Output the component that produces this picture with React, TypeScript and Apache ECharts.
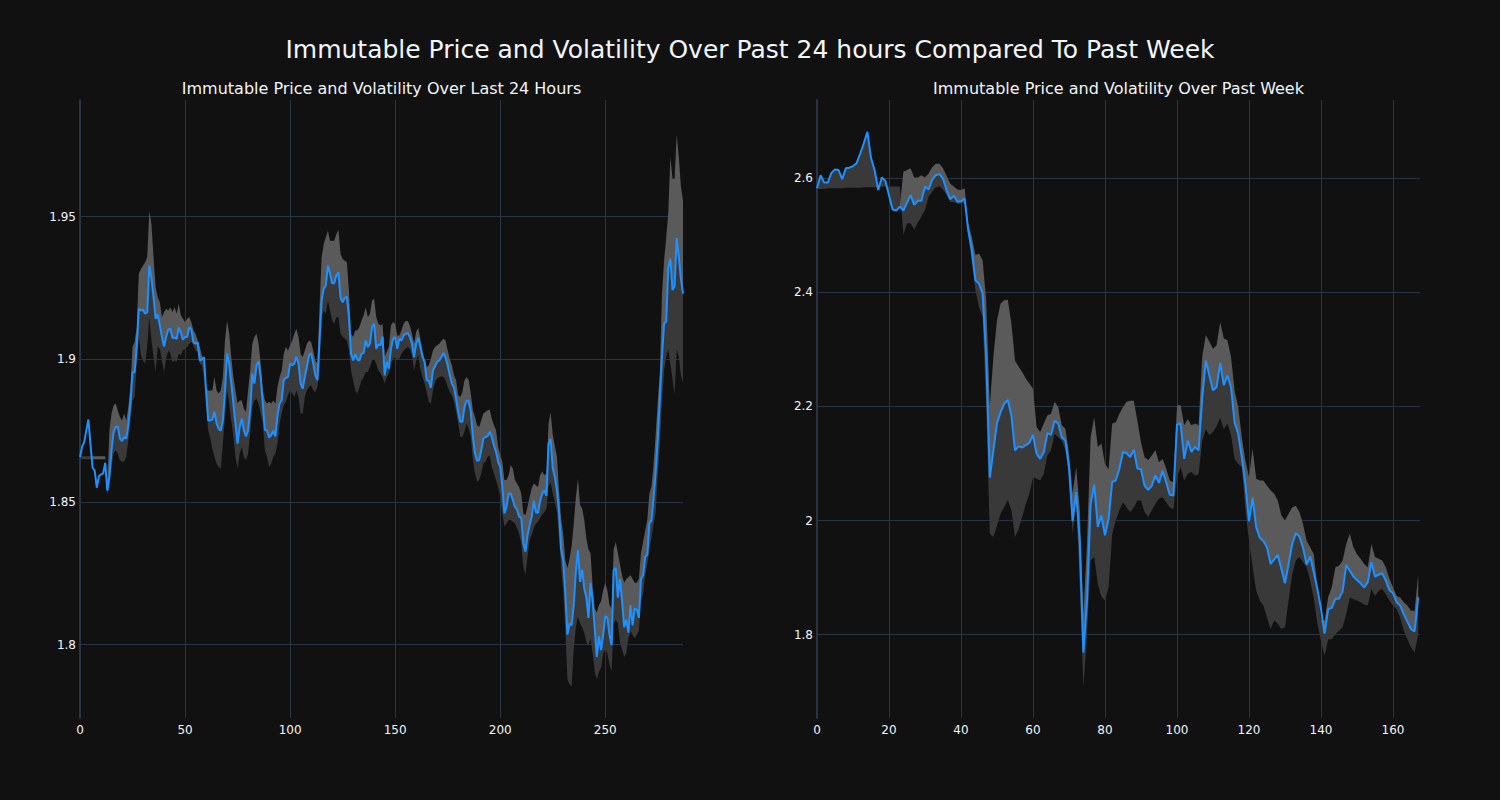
import React, { useEffect, useRef } from "react";
import * as echarts from "echarts";

const mainTitle = "Immutable Price and Volatility Over Past 24 hours Compared To Past Week";
const title24 = "Immutable Price and Volatility Over Last 24 Hours";
const titleWeek = "Immutable Price and Volatility Over Past Week";

const yTicks24 = [1.8, 1.85, 1.9, 1.95];
const yTicksWeek = [1.8, 2.0, 2.2, 2.4, 2.6];

// ---- Last 24 hours (5-minute steps) ----
const price24 = [
  1.8658, 1.8693, 1.8710, 1.8750, 1.8789, 1.8700, 1.8620, 1.8610, 1.8550, 1.8590,
  1.8597, 1.8600, 1.8637, 1.8540, 1.8588, 1.8684, 1.8746, 1.8763, 1.8765, 1.8722,
  1.8714, 1.8728, 1.8722, 1.8769, 1.8845, 1.8955, 1.8955, 1.9043, 1.9177, 1.9171,
  1.9174, 1.9160, 1.9165, 1.9329, 1.9285, 1.9218, 1.9142, 1.9157, 1.9119, 1.9078,
  1.9045, 1.9078, 1.9104, 1.9107, 1.9076, 1.9076, 1.9072, 1.9111, 1.9095, 1.9069,
  1.9078, 1.9078, 1.9113, 1.9104, 1.9060, 1.9055, 1.9060, 1.8996, 1.8999, 1.9008,
  1.8891, 1.8786, 1.8786, 1.8789, 1.8816, 1.8775, 1.8757, 1.8750, 1.8786, 1.8891,
  1.9020, 1.8985, 1.8915, 1.8845, 1.8775, 1.8705, 1.8763, 1.8792, 1.8750, 1.8730,
  1.8750, 1.8821, 1.8950, 1.8915, 1.8979, 1.8994, 1.8938, 1.8845, 1.8753, 1.8750,
  1.8726, 1.8734, 1.8750, 1.8730, 1.8804, 1.8845, 1.8857, 1.8929, 1.8935, 1.8938,
  1.8985, 1.8979, 1.8985, 1.9010, 1.8985, 1.8915, 1.8897, 1.8938, 1.8973, 1.9014,
  1.9022, 1.8985, 1.8944, 1.8927, 1.9066, 1.9206, 1.9247, 1.9259, 1.9329, 1.9300,
  1.9267, 1.9267, 1.9294, 1.9305, 1.9216, 1.9200, 1.9216, 1.9220, 1.9148, 1.9020,
  1.8996, 1.9018, 1.8999, 1.8996, 1.9020, 1.9022, 1.9066, 1.9043, 1.9055, 1.9113,
  1.9125, 1.9037, 1.9052, 1.9049, 1.9080, 1.8944, 1.8991, 1.8967, 1.9037, 1.9072,
  1.9078, 1.9037, 1.9072, 1.9066, 1.9084, 1.9090, 1.9092, 1.9078, 1.9055, 1.9008,
  1.9055, 1.9076, 1.9043, 1.9008, 1.8991, 1.8927, 1.8924, 1.8901, 1.8962, 1.8976,
  1.8991, 1.8996, 1.9008, 1.9022, 1.9006, 1.8979, 1.8944, 1.8915, 1.8901, 1.8862,
  1.8816, 1.8781, 1.8781, 1.8833, 1.8856, 1.8854, 1.8816, 1.8728, 1.8670, 1.8644,
  1.8647, 1.8682, 1.8723, 1.8728, 1.8731, 1.8746, 1.8728, 1.8699, 1.8676, 1.8641,
  1.8623, 1.8553, 1.8460, 1.8483, 1.8530, 1.8530, 1.8507, 1.8483, 1.8474, 1.8448,
  1.8446, 1.8355, 1.8326, 1.8384, 1.8419, 1.8448, 1.8505, 1.8464, 1.8462, 1.8503,
  1.8531, 1.8541, 1.8522, 1.8704, 1.8721, 1.8619, 1.8587, 1.8541, 1.8464, 1.8334,
  1.8295, 1.8178, 1.8035, 1.8074, 1.8068, 1.8139, 1.8256, 1.8331, 1.8220, 1.8262,
  1.8197, 1.8165, 1.8094, 1.8217, 1.8152, 1.8055, 1.7957, 1.8029, 1.7981, 1.8035,
  1.8100, 1.8094, 1.8035, 1.7999, 1.8262, 1.8269, 1.8165, 1.8230, 1.8152, 1.8061,
  1.8087, 1.8042, 1.8139, 1.8068, 1.8126, 1.8123, 1.8094, 1.8230, 1.8243, 1.8308,
  1.8314, 1.8425, 1.8435, 1.8516, 1.8606, 1.8723, 1.8866, 1.9009, 1.9126, 1.9132,
  1.9321, 1.9353, 1.9243, 1.9256, 1.9425, 1.9360, 1.9282, 1.9230,
];

const upper24 = [
  1.8660, 1.8660, 1.8660, 1.8660, 1.8660, 1.8660, 1.8660, 1.8660, 1.8660, 1.8660,
  1.8660, 1.8660, 1.8660, 1.8560, 1.8751, 1.8810, 1.8839, 1.8845, 1.8821, 1.8798,
  1.8786, 1.8810, 1.8786, 1.8833, 1.8903, 1.9043, 1.9061, 1.9113, 1.9300, 1.9317,
  1.9329, 1.9340, 1.9358, 1.9521, 1.9474, 1.9358, 1.9253, 1.9218, 1.9200, 1.9148,
  1.9165, 1.9177, 1.9171, 1.9183, 1.9165, 1.9183, 1.9160, 1.9195, 1.9154, 1.9142,
  1.9130, 1.9142, 1.9148, 1.9130, 1.9101, 1.9090, 1.9066, 1.9043, 1.9014, 1.8996,
  1.8903, 1.8891, 1.8891, 1.8891, 1.8938, 1.8891, 1.8880, 1.8891, 1.8938, 1.9066,
  1.9136, 1.9090, 1.9008, 1.8938, 1.8891, 1.8845, 1.8856, 1.8856, 1.8827, 1.8816,
  1.8891, 1.8961, 1.9055, 1.9078, 1.9090, 1.9055, 1.8985, 1.8891, 1.8856, 1.8845,
  1.8851, 1.8845, 1.8856, 1.8845, 1.8903, 1.8938, 1.8961, 1.9020, 1.9043, 1.9031,
  1.9049, 1.9066, 1.9090, 1.9107, 1.9078, 1.9020, 1.9008, 1.9031, 1.9055, 1.9066,
  1.9061, 1.9031, 1.8996, 1.8985, 1.9183, 1.9358, 1.9404, 1.9428, 1.9451, 1.9416,
  1.9416, 1.9416, 1.9439, 1.9453, 1.9370, 1.9352, 1.9346, 1.9340, 1.9241, 1.9090,
  1.9078, 1.9101, 1.9101, 1.9113, 1.9136, 1.9154, 1.9183, 1.9148, 1.9160, 1.9206,
  1.9212, 1.9148, 1.9125, 1.9119, 1.9125, 1.9008, 1.9026, 1.9043, 1.9119, 1.9131,
  1.9125, 1.9084, 1.9084, 1.9101, 1.9125, 1.9134, 1.9134, 1.9119, 1.9090, 1.9055,
  1.9096, 1.9111, 1.9072, 1.9031, 1.9002, 1.8973, 1.8979, 1.9002, 1.9031, 1.9043,
  1.9049, 1.9055, 1.9064, 1.9072, 1.9066, 1.9031, 1.9002, 1.8979, 1.8944, 1.8927,
  1.8874, 1.8868, 1.8886, 1.8927, 1.8938, 1.8927, 1.8880, 1.8822, 1.8798, 1.8769,
  1.8763, 1.8787, 1.8810, 1.8816, 1.8822, 1.8824, 1.8792, 1.8769, 1.8752, 1.8693,
  1.8665, 1.8642, 1.8577, 1.8577, 1.8594, 1.8629, 1.8618, 1.8577, 1.8565, 1.8553,
  1.8530, 1.8460, 1.8454, 1.8483, 1.8518, 1.8548, 1.8565, 1.8559, 1.8553, 1.8594,
  1.8607, 1.8594, 1.8600, 1.8775, 1.8814, 1.8736, 1.8697, 1.8659, 1.8542, 1.8438,
  1.8386, 1.8295, 1.8269, 1.8301, 1.8347, 1.8425, 1.8516, 1.8581, 1.8490, 1.8477,
  1.8438, 1.8373, 1.8334, 1.8321, 1.8204, 1.8126, 1.8113, 1.8139, 1.8152, 1.8191,
  1.8217, 1.8191, 1.8139, 1.8126, 1.8334, 1.8360, 1.8321, 1.8282, 1.8243, 1.8217,
  1.8230, 1.8236, 1.8243, 1.8230, 1.8217, 1.8217, 1.8230, 1.8321, 1.8360, 1.8399,
  1.8438, 1.8529, 1.8555, 1.8633, 1.8736, 1.8853, 1.8957, 1.9230, 1.9347, 1.9425,
  1.9516, 1.9710, 1.9633, 1.9633, 1.9788, 1.9710, 1.9607, 1.9555,
];

const lower24 = [
  1.8650, 1.8650, 1.8650, 1.8650, 1.8650, 1.8650, 1.8650, 1.8650, 1.8650, 1.8650,
  1.8650, 1.8650, 1.8650, 1.8524, 1.8565, 1.8623, 1.8670, 1.8681, 1.8670, 1.8646,
  1.8641, 1.8641, 1.8658, 1.8716, 1.8786, 1.8856, 1.8868, 1.8985, 1.9078, 1.9014,
  1.8996, 1.8985, 1.9043, 1.9148, 1.9066, 1.9008, 1.8956, 1.9043, 1.9037, 1.8996,
  1.8956, 1.9002, 1.9031, 1.9020, 1.8991, 1.8996, 1.8991, 1.9020, 1.9014, 1.9031,
  1.9037, 1.9043, 1.9055, 1.9061, 1.9049, 1.9031, 1.9026, 1.8985, 1.8979, 1.8938,
  1.8845, 1.8751, 1.8723, 1.8687, 1.8658, 1.8635, 1.8623, 1.8617, 1.8705, 1.8798,
  1.8891, 1.8845, 1.8786, 1.8728, 1.8658, 1.8617, 1.8670, 1.8693, 1.8658, 1.8646,
  1.8670, 1.8740, 1.8833, 1.8856, 1.8862, 1.8845, 1.8810, 1.8775, 1.8681, 1.8658,
  1.8623, 1.8635, 1.8658, 1.8670, 1.8705, 1.8775, 1.8810, 1.8839, 1.8851, 1.8874,
  1.8891, 1.8880, 1.8868, 1.8891, 1.8868, 1.8810, 1.8810, 1.8868, 1.8891, 1.8903,
  1.8909, 1.8891, 1.8886, 1.8903, 1.8961, 1.9148, 1.9171, 1.9160, 1.9206, 1.9171,
  1.9136, 1.9125, 1.9148, 1.9148, 1.9090, 1.9078, 1.9072, 1.9066, 1.9031, 1.8961,
  1.8926, 1.8891, 1.8880, 1.8903, 1.8926, 1.8938, 1.8956, 1.8956, 1.8973, 1.8996,
  1.9002, 1.8985, 1.8961, 1.8950, 1.8938, 1.8915, 1.8938, 1.8950, 1.8985, 1.9002,
  1.9008, 1.8996, 1.9002, 1.9020, 1.9031, 1.9037, 1.9043, 1.9037, 1.9014, 1.8961,
  1.8996, 1.9014, 1.8967, 1.8938, 1.8915, 1.8886, 1.8851, 1.8845, 1.8892, 1.8921,
  1.8932, 1.8938, 1.8940, 1.8938, 1.8927, 1.8903, 1.8886, 1.8874, 1.8851, 1.8816,
  1.8775, 1.8728, 1.8728, 1.8746, 1.8775, 1.8758, 1.8728, 1.8647, 1.8600, 1.8571,
  1.8577, 1.8600, 1.8635, 1.8641, 1.8658, 1.8664, 1.8623, 1.8600, 1.8577, 1.8553,
  1.8518, 1.8460, 1.8414, 1.8425, 1.8437, 1.8437, 1.8431, 1.8425, 1.8408, 1.8390,
  1.8355, 1.8274, 1.8245, 1.8309, 1.8367, 1.8384, 1.8408, 1.8425, 1.8431, 1.8444,
  1.8457, 1.8464, 1.8477, 1.8555, 1.8568, 1.8529, 1.8503, 1.8464, 1.8373, 1.8269,
  1.8191, 1.8048, 1.7879, 1.7860, 1.7853, 1.7983, 1.8061, 1.8100, 1.8074, 1.8061,
  1.8042, 1.8009, 1.7996, 1.8022, 1.7970, 1.7905, 1.7879, 1.7905, 1.7918, 1.7970,
  1.7983, 1.7970, 1.7931, 1.7905, 1.8074, 1.8087, 1.8074, 1.8009, 1.7983, 1.7957,
  1.7970, 1.8022, 1.8048, 1.8035, 1.8022, 1.8035, 1.8048, 1.8152, 1.8178, 1.8243,
  1.8282, 1.8334, 1.8373, 1.8425, 1.8464, 1.8594, 1.8697, 1.8853, 1.8957, 1.9009,
  1.9035, 1.8983, 1.8931, 1.8879, 1.9035, 1.9009, 1.8944, 1.8918,
];

// ---- Past week (hourly steps) ----
const priceWeek = [
  2.582, 2.605, 2.592, 2.592, 2.609, 2.615, 2.614, 2.598, 2.617, 2.618,
  2.621, 2.626, 2.643, 2.661, 2.681, 2.635, 2.614, 2.579, 2.601, 2.595,
  2.570, 2.545, 2.543, 2.550, 2.543, 2.557, 2.570, 2.553, 2.560, 2.560,
  2.585, 2.580, 2.597, 2.605, 2.607, 2.599, 2.579, 2.563, 2.569, 2.559,
  2.559, 2.564, 2.509, 2.474, 2.421, 2.415, 2.398, 2.287, 2.075, 2.123,
  2.171, 2.190, 2.205, 2.211, 2.184, 2.123, 2.130, 2.128, 2.132, 2.136,
  2.150, 2.117, 2.108, 2.120, 2.153, 2.150, 2.175, 2.170, 2.146, 2.140,
  2.094, 1.999, 2.050, 1.960, 1.769, 1.860, 2.029, 2.063, 1.989, 2.009,
  1.974, 2.003, 2.068, 2.070, 2.091, 2.120, 2.118, 2.111, 2.124, 2.091,
  2.090, 2.061, 2.054, 2.061, 2.079, 2.066, 2.087, 2.067, 2.045, 2.044,
  2.168, 2.170, 2.108, 2.140, 2.120, 2.129, 2.123, 2.215, 2.280, 2.254,
  2.228, 2.234, 2.276, 2.237, 2.254, 2.234, 2.172, 2.152, 2.111, 2.064,
  1.999, 2.040, 1.988, 1.970, 1.964, 1.953, 1.924, 1.932, 1.940, 1.915,
  1.890, 1.924, 1.959, 1.978, 1.972, 1.953, 1.923, 1.937, 1.909, 1.880,
  1.845, 1.802, 1.845, 1.847, 1.863, 1.863, 1.876, 1.922, 1.912, 1.902,
  1.896, 1.890, 1.883, 1.892, 1.927, 1.902, 1.905, 1.908, 1.895, 1.878,
  1.873, 1.857, 1.851, 1.836, 1.823, 1.810, 1.806, 1.866,
];

const upperWeek = [
  2.582, 2.605, 2.592, 2.592, 2.609, 2.615, 2.614, 2.598, 2.617, 2.618,
  2.621, 2.626, 2.643, 2.661, 2.681, 2.635, 2.614, 2.579, 2.601, 2.595,
  2.570, 2.545, 2.543, 2.550, 2.611, 2.614, 2.617, 2.601, 2.601, 2.605,
  2.601, 2.608, 2.619, 2.625, 2.625, 2.617, 2.604, 2.590, 2.585, 2.580,
  2.579, 2.582, 2.521, 2.497, 2.465, 2.468, 2.456, 2.386, 2.200, 2.287,
  2.351, 2.380, 2.386, 2.387, 2.345, 2.280, 2.270, 2.260, 2.249, 2.240,
  2.231, 2.164, 2.155, 2.170, 2.184, 2.187, 2.208, 2.199, 2.167, 2.161,
  2.117, 2.047, 2.094, 2.018, 1.836, 1.959, 2.146, 2.181, 2.129, 2.135,
  2.099, 2.090, 2.170, 2.172, 2.187, 2.199, 2.208, 2.210, 2.210, 2.175,
  2.137, 2.111, 2.106, 2.114, 2.123, 2.102, 2.108, 2.091, 2.070, 2.067,
  2.202, 2.202, 2.167, 2.178, 2.167, 2.170, 2.167, 2.287, 2.325, 2.313,
  2.301, 2.307, 2.348, 2.319, 2.316, 2.287, 2.228, 2.199, 2.146, 2.105,
  2.076, 2.126, 2.073, 2.070, 2.070, 2.061, 2.053, 2.047, 2.035, 2.009,
  2.000, 2.012, 2.023, 2.026, 2.015, 1.994, 1.965, 1.953, 1.941, 1.883,
  1.825, 1.825, 1.866, 1.883, 1.918, 1.921, 1.930, 1.959, 1.977, 1.953,
  1.941, 1.933, 1.924, 1.918, 1.959, 1.936, 1.933, 1.930, 1.918, 1.898,
  1.883, 1.868, 1.865, 1.857, 1.851, 1.842, 1.842, 1.906,
];

const lowerWeek = [
  2.581, 2.581, 2.581, 2.582, 2.582, 2.582, 2.582, 2.582, 2.583, 2.583,
  2.583, 2.583, 2.583, 2.584, 2.584, 2.584, 2.584, 2.584, 2.585, 2.585,
  2.585, 2.585, 2.585, 2.585, 2.500, 2.521, 2.521, 2.510, 2.522, 2.532,
  2.544, 2.567, 2.576, 2.584, 2.585, 2.580, 2.570, 2.558, 2.558, 2.555,
  2.555, 2.557, 2.503, 2.450, 2.404, 2.374, 2.357, 2.200, 1.977, 1.971,
  1.991, 2.012, 2.023, 2.036, 2.018, 1.971, 1.985, 2.006, 2.029, 2.047,
  2.076, 2.073, 2.070, 2.082, 2.114, 2.123, 2.152, 2.146, 2.140, 2.123,
  2.076, 1.977, 2.035, 1.883, 1.708, 1.801, 1.930, 1.936, 1.889, 1.866,
  1.860, 1.883, 1.977, 2.000, 2.018, 2.032, 2.023, 2.015, 2.023, 2.035,
  2.035, 2.015, 2.006, 2.018, 2.029, 2.038, 2.041, 2.032, 2.023, 2.020,
  2.076, 2.094, 2.070, 2.082, 2.085, 2.079, 2.081, 2.140, 2.160, 2.150,
  2.155, 2.165, 2.180, 2.160, 2.170, 2.150, 2.108, 2.099, 2.094, 2.018,
  1.965, 1.918, 1.877, 1.860, 1.851, 1.830, 1.810, 1.825, 1.819, 1.810,
  1.813, 1.860, 1.906, 1.930, 1.936, 1.927, 1.918, 1.895, 1.863, 1.819,
  1.789, 1.763, 1.792, 1.792, 1.801, 1.807, 1.813, 1.836, 1.865, 1.862,
  1.860, 1.857, 1.853, 1.851, 1.880, 1.868, 1.877, 1.880, 1.871, 1.860,
  1.851, 1.845, 1.830, 1.807, 1.792, 1.778, 1.769, 1.801,
];

const BG = "#111111";
const GRID = "#283442";
const TEXT = "#f2f5fa";
const LINE = "#1e90ff";
const FILL_LOW = "#393939";
const FILL_HIGH = "#5a5a5a";
const FONT = "DejaVu Sans";

// polygon between two curves, drawn through the axis scales with api.coord
function fillSeries(top: number[], bottom: number[], idx: number, color: string, z: number) {
  return {
    type: "custom",
    xAxisIndex: idx,
    yAxisIndex: idx,
    silent: true,
    z,
    data: [[0, top[0]]],
    renderItem: (params: any, api: any) => {
      const pts: number[][] = [];
      for (let i = 0; i < top.length; i++) pts.push(api.coord([i, top[i]]));
      for (let i = bottom.length - 1; i >= 0; i--) pts.push(api.coord([i, bottom[i]]));
      const cs = params.coordSys;
      return {
        type: "polygon",
        shape: { points: pts },
        style: { fill: color, stroke: null },
        clipPath: {
          type: "rect",
          shape: { x: cs.x, y: cs.y, width: cs.width, height: cs.height },
        },
      };
    },
  };
}

function bandSeries(price: number[], upper: number[], lower: number[], idx: number) {
  const mid = price.map((p, i) => Math.min(Math.max(p, lower[i]), upper[i]));
  return [
    fillSeries(mid, lower, idx, FILL_LOW, 1),
    fillSeries(upper, mid, idx, FILL_HIGH, 1),
    {
      type: "line",
      name: "price" + idx,
      xAxisIndex: idx,
      yAxisIndex: idx,
      symbol: "none",
      showSymbol: false,
      silent: true,
      z: 5,
      data: price.map((v, i) => [i, v]),
      lineStyle: { color: LINE, width: 2 },
      emphasis: { disabled: true },
    },
  ];
}

function xAxis(idx: number, max: number, interval: number) {
  return {
    type: "value",
    gridIndex: idx,
    min: 0,
    max,
    interval,
    axisLine: { show: false },
    axisTick: { show: false },
    axisLabel: { color: TEXT, fontSize: 12, fontFamily: FONT, margin: 6, showMaxLabel: false },
    splitLine: { show: true, showMaxLine: false, lineStyle: { color: GRID, width: 1 } },
  };
}

function yAxis(idx: number, min: number, max: number, ticks: number[]) {
  return {
    type: "value",
    gridIndex: idx,
    min,
    max,
    axisLine: { show: true, onZero: false, lineStyle: { color: GRID, width: 2 } },
    axisTick: { show: false, customValues: ticks },
    axisLabel: {
      color: TEXT,
      fontSize: 12,
      fontFamily: FONT,
      margin: 4,
      customValues: ticks,
      showMinLabel: true,
      showMaxLabel: true,
    },
    splitLine: {
      show: true,
      showMinLine: true,
      showMaxLine: true,
      lineStyle: { color: GRID, width: 1 },
    },
  };
}

export default function App() {
  const ref = useRef<HTMLDivElement>(null);
  useEffect(() => {
    if (!ref.current) return;
    const chart = echarts.init(ref.current, undefined, { renderer: "svg" });
    chart.setOption({
      animation: false,
      backgroundColor: BG,
      title: [
        {
          text: mainTitle,
          left: 750,
          top: 37,
          textAlign: "center",
          padding: 0,
          textStyle: { color: TEXT, fontSize: 25, fontWeight: "normal", fontFamily: FONT },
        },
        {
          text: title24,
          left: 381.5,
          top: 80,
          textAlign: "center",
          padding: 0,
          textStyle: { color: TEXT, fontSize: 16, fontWeight: "normal", fontFamily: FONT },
        },
        {
          text: titleWeek,
          left: 1118.5,
          top: 80,
          textAlign: "center",
          padding: 0,
          textStyle: { color: TEXT, fontSize: 16, fontWeight: "normal", fontFamily: FONT },
        },
      ],
      grid: [
        { left: 80, top: 100, width: 603, height: 618, containLabel: false },
        { left: 817, top: 100, width: 603, height: 618, containLabel: false },
      ],
      xAxis: [xAxis(0, 287, 50), xAxis(1, 167.5, 20)],
      yAxis: [yAxis(0, 1.7743, 1.9909, yTicks24), yAxis(1, 1.6541, 2.7367, yTicksWeek)],
      series: [
        ...bandSeries(price24, upper24, lower24, 0),
        ...bandSeries(priceWeek, upperWeek, lowerWeek, 1),
      ],
    });
    return () => chart.dispose();
  }, []);
  return (
    <div
      ref={ref}
      style={{ position: "fixed", left: 0, top: 0, width: 1500, height: 800, background: BG }}
    />
  );
}
